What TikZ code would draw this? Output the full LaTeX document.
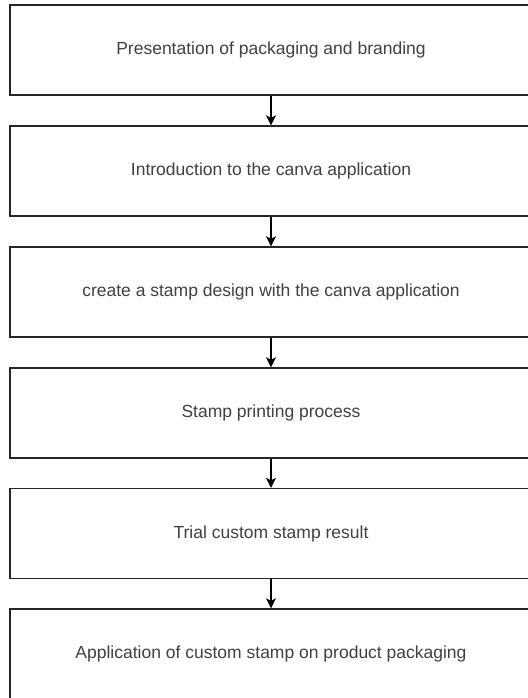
\documentclass[tikz,border=0pt]{standalone}
\usepackage{fontspec}
\setmainfont{Liberation Sans}
\usetikzlibrary{arrows.meta}

\begin{document}
\begin{tikzpicture}[x=1pt, y=1pt,
    stepbox/.style={draw=black!85, line width=1.4pt, minimum width=522pt, minimum height=90pt, font=\fontsize{17.5}{20}\selectfont, text=black!75},
    flow/.style={->, >={Stealth[length=10pt, width=10pt, inset=2.5pt]}, line width=1.3pt}]
    \useasboundingbox (0,0) rectangle (527,-698);
    \node [stepbox] (pres) at (271,-50) {Presentation of packaging and branding};
    \node [stepbox] (intro) at (271,-171) {Introduction to the canva application};
    \node [stepbox] (design) at (271,-292) {create a stamp design with the canva application};
    \node [stepbox] (print) at (271,-413) {Stamp printing process};
    \node [stepbox] (trial) at (271,-533.5) {Trial custom stamp result};
    \node [stepbox] (apply) at (271,-654) {Application of custom stamp on product packaging};
    \draw [flow] (pres) -- (intro);
    \draw [flow] (intro) -- (design);
    \draw [flow] (design) -- (print);
    \draw [flow] (print) -- (trial);
    \draw [flow] (trial) -- (apply);
    \end{tikzpicture}
\end{document}
